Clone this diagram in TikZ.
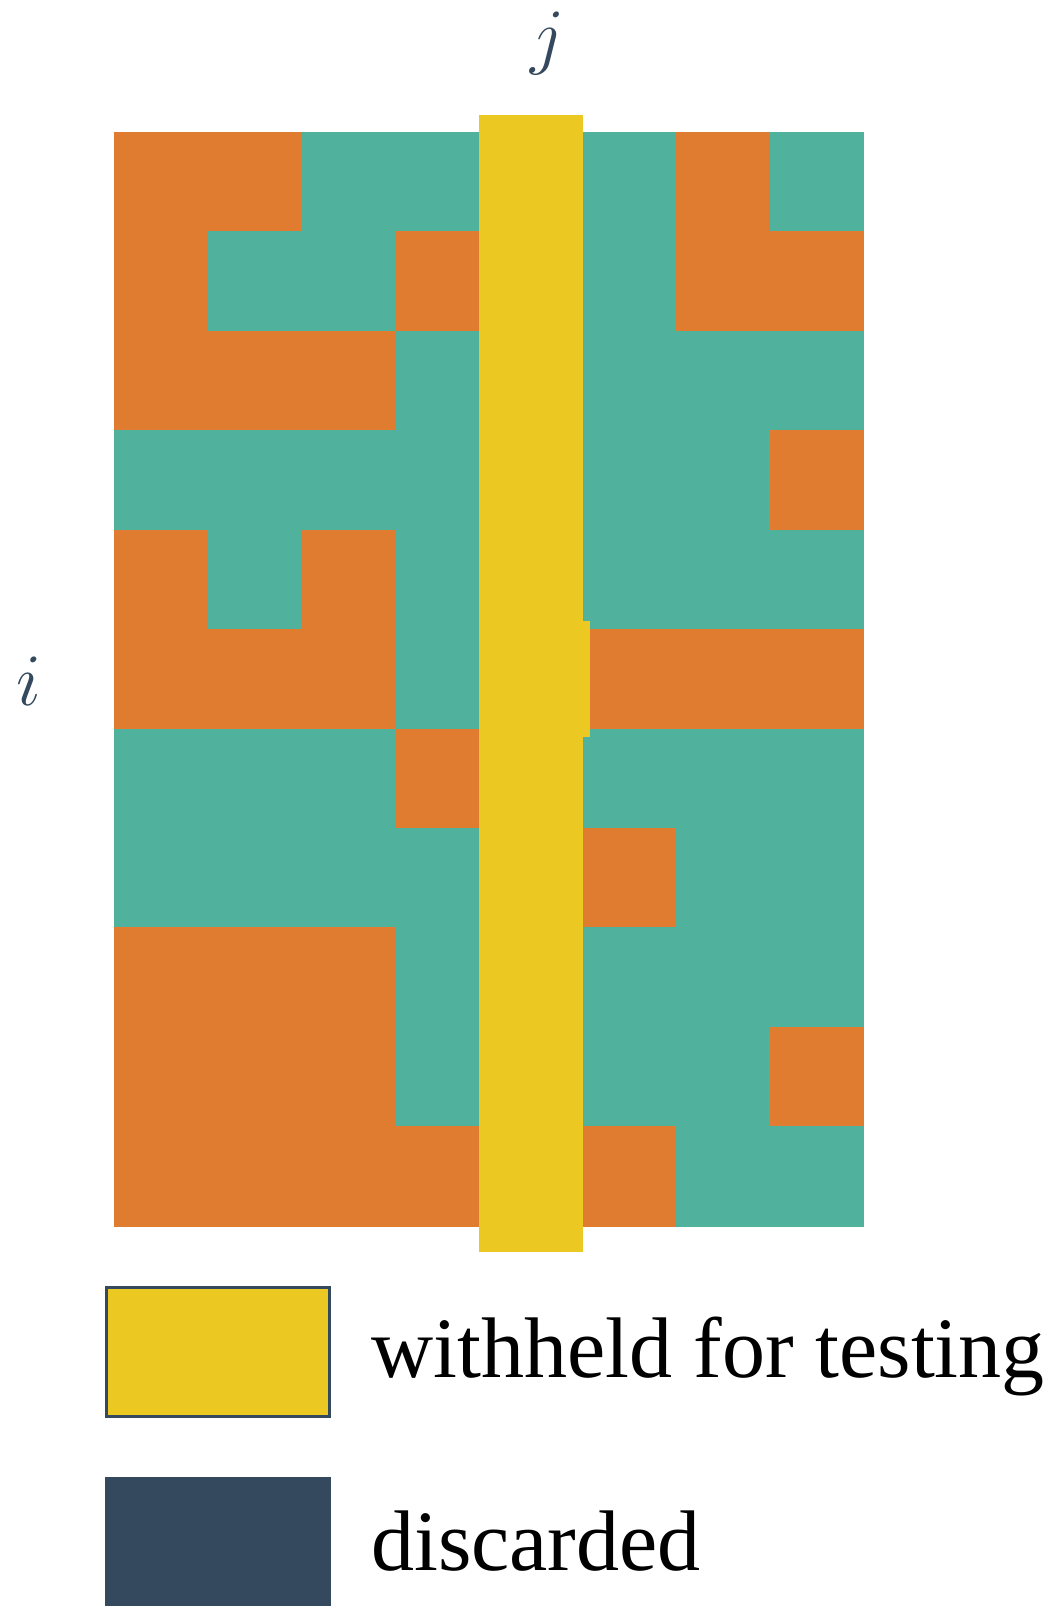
\RequirePackage{fix-cm}
\documentclass[tikz,border=0pt]{standalone}
\usepackage{fontspec}
\setmainfont{Liberation Serif}
\usepackage{xcolor}
\definecolor{cello}{HTML}{E07C30}
\definecolor{cellt}{HTML}{50B29C}
\definecolor{testyellow}{HTML}{ECC823}
\definecolor{slate}{HTML}{34495E}
\tikzset{
  cell/.style={fill=cell#1, draw=cell#1, line width=0.4pt},
  holdout/.style={fill=testyellow},
  keybox/.style={
    rectangle, draw=slate, fill=#1, line width=3pt, inner sep=0pt,
    minimum width=222.5pt, minimum height=129pt
  },
  keytext/.style={anchor=base west, inner sep=0pt,
    font=\fontsize{86}{96}\selectfont},
  axislabel/.style={anchor=base, inner sep=0pt, text=slate,
    font=\fontsize{74}{80}\selectfont}
}

\begin{document}
\begin{tikzpicture}[x=1pt, y=-1pt]
    \useasboundingbox (0,0) rectangle (1050,1606);

    % Matriz de celdas (o = naranja, t = verde)
    \foreach \row [count=\ri from 0] in {
        {o,o,t,t,t,t,o,t}, {o,t,t,o,t,t,o,o}, {o,o,o,t,t,t,t,t},
        {t,t,t,t,t,t,t,o}, {o,t,o,t,t,t,t,t}, {o,o,o,t,t,o,o,o},
        {t,t,t,o,t,t,t,t}, {t,t,t,t,t,o,t,t}, {o,o,o,t,t,t,t,t},
        {o,o,o,t,t,t,t,o}, {o,o,o,o,t,o,t,t}}{%
      \foreach \c [count=\ci from 0] in \row {%
        \path[cell=\c] ({113.7+93.74*\ci},{132+99.45*\ri})
          rectangle +(93.74,99.45);}}

    % Columna j retenida
    \fill[holdout] (479,115) rectangle (583,1252);
    \fill[holdout] (479,621) rectangle (590,737);

    % Etiquetas
    \node[axislabel] (labj) at (548,60) {$j$};
    \node[axislabel] (labi) at (29,705) {$i$};

    % Leyenda
    \node[keybox=testyellow] (keytest) at (218.2,1351.7) {};
    \node[keytext] (txttest) at (371,1377) {withheld for testing};
    \node[keybox=slate] (keydisc) at (218.2,1543) {};
    \node[keytext] (txtdisc) at (371,1570) {discarded};
  \end{tikzpicture}
\end{document}
